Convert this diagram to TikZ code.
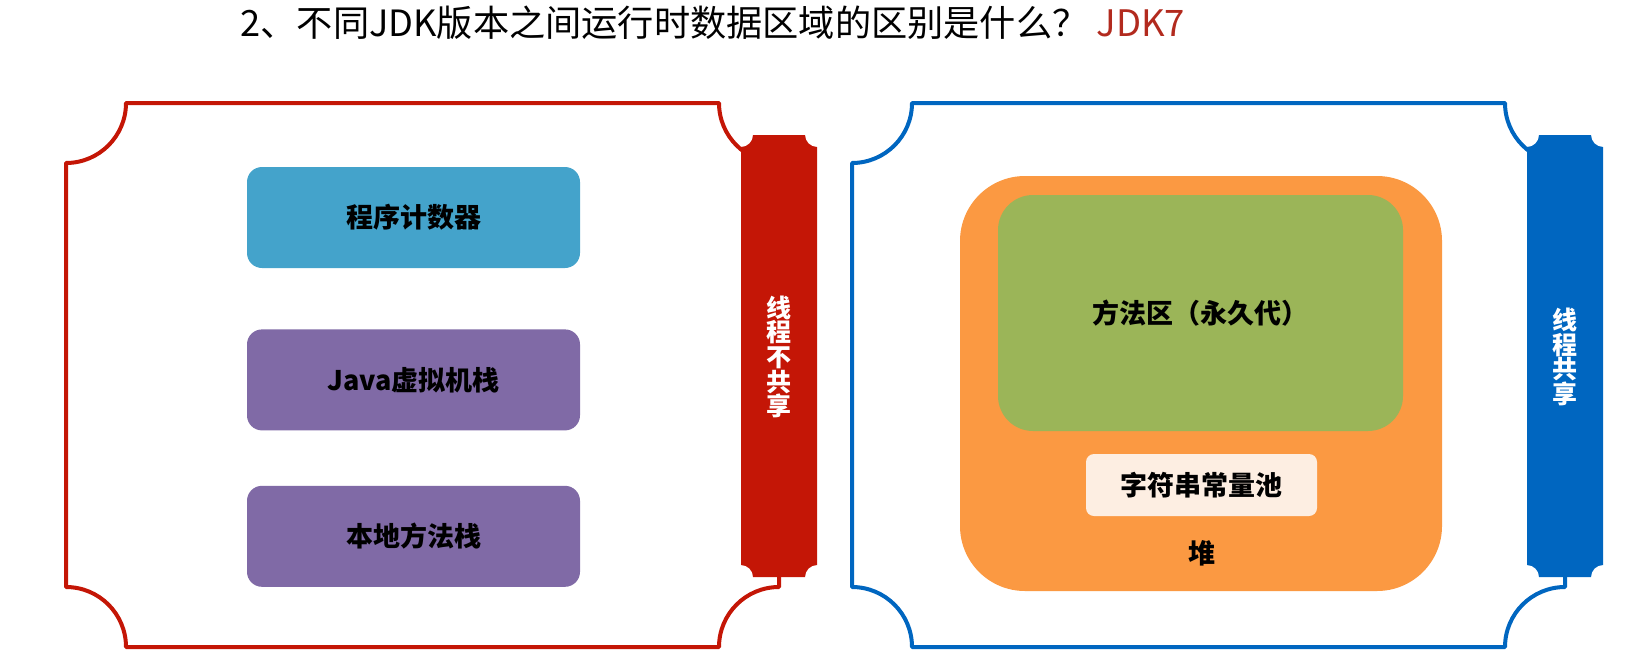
\documentclass[tikz,border=0pt]{standalone}
\usepackage{fontspec}
\setmainfont{Noto Sans CJK SC}
\usetikzlibrary{positioning}

\definecolor{framered}{RGB}{196,22,6}
\definecolor{framblue}{RGB}{0,102,192}
\definecolor{pcblue}{RGB}{68,163,203}
\definecolor{stackpurple}{RGB}{128,106,166}
\definecolor{heaporange}{RGB}{251,153,66}
\definecolor{methodgreen}{RGB}{155,181,88}
\definecolor{poolcream}{RGB}{253,238,226}
\definecolor{jdkred}{RGB}{178,42,30}

\begin{document}
\begin{tikzpicture}[x=1pt,y=-1pt,
  box/.style={rectangle,rounded corners=15pt,minimum width=333pt,minimum height=101pt,
    font=\fontsize{27}{30}\selectfont\bfseries},
  bartext/.style={text=white,align=center,font=\fontsize{25}{24.6}\selectfont\bfseries},
  frame/.style={line width=4pt,line join=round}]
\useasboundingbox (0,0) rectangle (1627,654);

% title
\node[anchor=west,font=\fontsize{36.2}{40}\selectfont] (title) at (237,23) {2、不同JDK版本之间运行时数据区域的区别是什么？};
\node[anchor=west,text=jdkred,font=\fontsize{36.5}{40}\selectfont] (jdk) at (1093,23) {JDK7};

% left frame: thread private
\draw[frame,framered] (126,103) -- (719,103) arc[start angle=180,end angle=90,radius=60]
  -- (779,587) arc[start angle=270,end angle=180,radius=60]
  -- (126,647) arc[start angle=0,end angle=-90,radius=60]
  -- (66,163) arc[start angle=90,end angle=0,radius=60] -- cycle;
\fill[framered] (753,135) -- (805,135) arc[start angle=180,end angle=90,radius=12]
  -- (817,565) arc[start angle=270,end angle=180,radius=12]
  -- (753,577) arc[start angle=0,end angle=-90,radius=12]
  -- (741,147) arc[start angle=90,end angle=0,radius=12] -- cycle;
\node[bartext] (redtag) at (779,357) {线\\程\\不\\共\\享};

\node[box,fill=pcblue] (pc) at (413.5,217.5) {程序计数器};
\node[box,fill=stackpurple,below=61pt of pc] (vmstack) {Java虚拟机栈};
\node[box,fill=stackpurple,below=55pt of vmstack] (nativestack) {本地方法栈};

% right frame: thread shared
\draw[frame,framblue] (912,103) -- (1505,103) arc[start angle=180,end angle=90,radius=60]
  -- (1565,587) arc[start angle=270,end angle=180,radius=60]
  -- (912,647) arc[start angle=0,end angle=-90,radius=60]
  -- (852,163) arc[start angle=90,end angle=0,radius=60] -- cycle;
\fill[framblue] (1539,135) -- (1591,135) arc[start angle=180,end angle=90,radius=12]
  -- (1603,565) arc[start angle=270,end angle=180,radius=12]
  -- (1539,577) arc[start angle=0,end angle=-90,radius=12]
  -- (1527,147) arc[start angle=90,end angle=0,radius=12] -- cycle;
\node[bartext] (bluetag) at (1565,357) {线\\程\\共\\享};

\node[fill=heaporange,rounded corners=65pt,minimum width=482pt,minimum height=415pt] (heap) at (1201,383.5) {};
\node[box,fill=methodgreen,rounded corners=35pt,minimum width=405pt,minimum height=236pt] (methodarea) at (1200.5,313) {方法区（永久代）};
\node[box,fill=poolcream,rounded corners=8pt,minimum width=231pt,minimum height=62pt] (strpool) at (1201.5,485) {字符串常量池};
\node[font=\fontsize{27}{30}\selectfont\bfseries] (heaplabel) at (1202,553) {堆};
\end{tikzpicture}
\end{document}
